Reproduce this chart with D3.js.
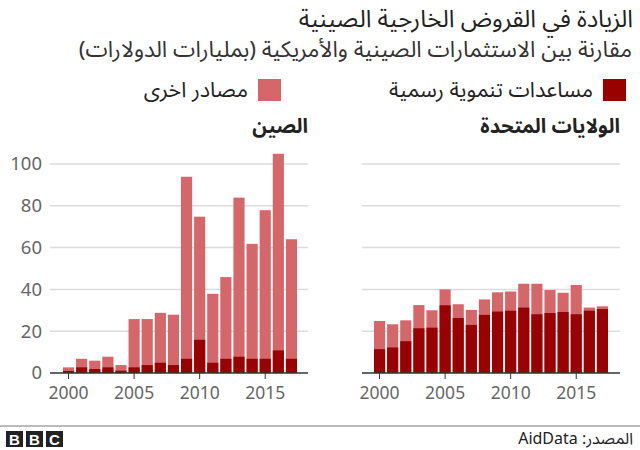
<!DOCTYPE html>
<html>
<head>
<meta charset="utf-8">
<script src="https://cdn.jsdelivr.net/npm/d3@7"></script>
<style>
  body { margin: 0; background: #fff; }
  svg { font-family: "Noto Sans Arabic", "DejaVu Sans", sans-serif; }
</style>
</head>
<body>
<svg width="640" height="450"></svg>
<script>
// years shown on both panels
var years = d3.range(2000, 2018);
var yTicks = [0, 20, 40, 60, 80, 100];
var xTicks = [2000, 2005, 2010, 2015];

// China, billions of dollars
var chinaOda   = [1, 2.7, 1.9, 2.7, 1.1, 2.7, 3.8, 4.9, 3.8, 6.8, 15.9, 4.9, 6.8, 7.8, 6.8, 6.8, 10.8, 6.8];
var chinaTotal = [2.7, 6.8, 5.9, 7.8, 3.8, 25.8, 25.8, 28.8, 27.9, 93.9, 74.8, 37.9, 45.9, 83.9, 61.8, 77.9, 104.9, 64];

// United States
var usOda   = [11.4, 12.2, 15.2, 21.4, 21.7, 32.4, 26.3, 23, 27.8, 29.4, 29.8, 31.3, 28.1, 28.7, 29.2, 28.1, 29.8, 30.6];
var usTotal = [24.9, 23.3, 25.2, 32.5, 30, 40, 32.9, 30.2, 35.2, 38.6, 39, 42.7, 42.7, 39.7, 38.4, 42.1, 31.3, 31.9];

var odaColor = "#990000";
var otherColor = "#d5676b";

var svg = d3.select("svg");

// y scale shared by both panels
var y = d3.scaleLinear()
	.domain([0, 100])
	.range([373, 164]);

// headings
svg.append("text")
	.attr("x", 633).attr("y", 27)
	.attr("direction", "rtl")
	.attr("font-size", 24)
	.attr("fill", "#222")
	.text("الزيادة في القروض الخارجية الصينية");

svg.append("text")
	.attr("x", 632).attr("y", 57)
	.attr("direction", "rtl")
	.attr("font-size", 22.5)
	.attr("fill", "#333")
	.text("مقارنة بين الاستثمارات الصينية والأمريكية (بمليارات الدولارات)");

// legend
var legend = [
	{label: "مساعدات تنموية رسمية", color: odaColor, x: 603},
	{label: "مصادر اخرى", color: otherColor, x: 258}
];
legend.forEach(function(l) {
	svg.append("rect")
		.attr("x", l.x).attr("y", 79)
		.attr("width", 23).attr("height", 22)
		.attr("fill", l.color);
	svg.append("text")
		.attr("x", l.x - 10).attr("y", 97)
		.attr("direction", "rtl")
		.attr("font-size", 21.5)
		.attr("fill", "#222")
		.text(l.label);
});

// draw one panel
function drawPanel(left, right, bandLeft, title, oda, total, showY) {
	var x = d3.scaleBand()
		.domain(years)
		.range([bandLeft, bandLeft + 236])
		.paddingInner(0.15)
		.paddingOuter(0.075);

	var g = svg.append("g");

	// gridlines
	g.selectAll(".grid")
		.data(yTicks.slice(1))
		.enter().append("line")
		.attr("x1", left).attr("x2", right)
		.attr("y1", function(d) { return y(d); })
		.attr("y2", function(d) { return y(d); })
		.attr("stroke", "#dcdcdc")
		.attr("stroke-width", 1.5);

	var rows = years.map(function(yr, i) {
		return {year: yr, oda: oda[i], total: total[i]};
	});

	// total bars (other sources on top of oda)
	g.selectAll(".tot")
		.data(rows)
		.enter().append("rect")
		.attr("x", function(d) { return x(d.year); })
		.attr("width", x.bandwidth())
		.attr("y", function(d) { return y(d.total); })
		.attr("height", function(d) { return y(0) - y(d.total); })
		.attr("fill", otherColor);

	g.selectAll(".oda")
		.data(rows)
		.enter().append("rect")
		.attr("x", function(d) { return x(d.year); })
		.attr("width", x.bandwidth())
		.attr("y", function(d) { return y(d.oda); })
		.attr("height", function(d) { return y(0) - y(d.oda); })
		.attr("fill", odaColor);

	// x axis
	var xAxis = d3.axisBottom(x)
		.tickValues(xTicks)
		.tickSize(6)
		.tickSizeOuter(0)
		.tickPadding(8);

	var ax = g.append("g")
		.attr("transform", "translate(0," + y(0) + ")")
		.call(xAxis);
	ax.select(".domain").remove();
	ax.selectAll("line").attr("stroke", "#333");
	ax.selectAll("text")
		.attr("font-size", 17.5)
		.attr("fill", "#666")
		.attr("font-family", "'Noto Sans', 'DejaVu Sans', sans-serif");

	g.append("line")
		.attr("x1", left).attr("x2", right)
		.attr("y1", y(0)).attr("y2", y(0))
		.attr("stroke", "#333")
		.attr("stroke-width", 1.5);

	if (showY) {
		var yAxis = d3.axisLeft(y)
			.tickValues(yTicks)
			.tickSize(0)
			.tickPadding(0);
		var ay = g.append("g")
			.attr("transform", "translate(42,0)")
			.call(yAxis);
		ay.select(".domain").remove();
		ay.selectAll("text")
			.attr("font-size", 18.5)
			.attr("fill", "#666")
			.attr("font-family", "'Noto Sans', 'DejaVu Sans', sans-serif");
	}

	// panel title
	svg.append("text")
		.attr("x", right).attr("y", 133)
		.attr("direction", "rtl")
		.attr("font-size", 20)
		.attr("font-weight", "bold")
		.attr("fill", "#222")
		.text(title);
}

drawPanel(50, 308, 62, "الصين", chinaOda, chinaTotal, true);
drawPanel(362, 620, 373, "الولايات المتحدة", usOda, usTotal, false);

// footer
svg.append("line")
	.attr("x1", 0).attr("x2", 640)
	.attr("y1", 426).attr("y2", 426)
	.attr("stroke", "#777")
	.attr("stroke-width", 1);

["B", "B", "C"].forEach(function(c, i) {
	svg.append("rect")
		.attr("x", 6 + i * 20).attr("y", 431)
		.attr("width", 17).attr("height", 16)
		.attr("fill", "#222");
	svg.append("text")
		.attr("x", 14.5 + i * 20).attr("y", 445)
		.attr("text-anchor", "middle")
		.attr("font-size", 15)
		.attr("font-weight", "bold")
		.attr("font-family", "'Liberation Sans', Arial, sans-serif")
		.attr("fill", "#fff")
		.text(c);
});

svg.append("text")
	.attr("x", 633).attr("y", 444)
	.attr("direction", "rtl")
	.attr("font-size", 16)
	.attr("fill", "#222")
	.text("المصدر: AidData");
</script>
</body>
</html>
